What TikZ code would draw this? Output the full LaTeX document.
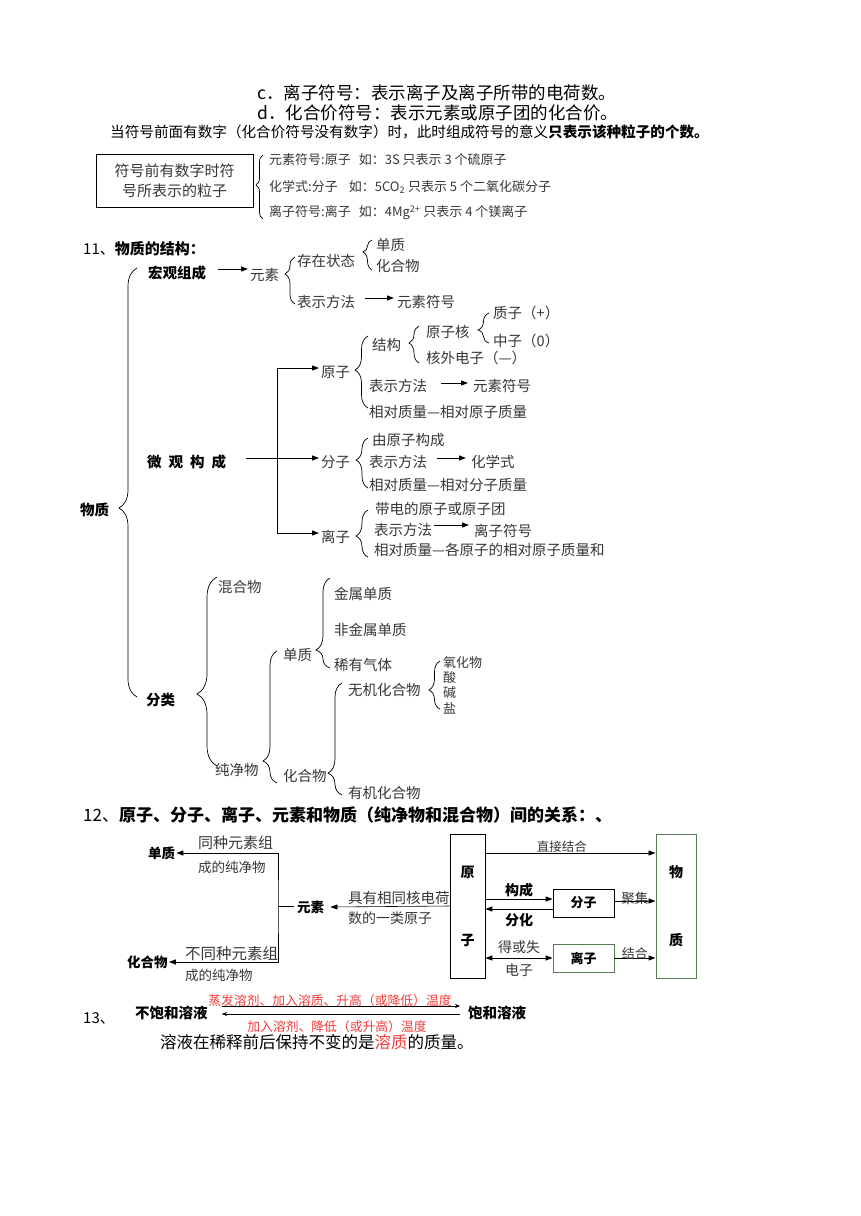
\documentclass[tikz,border=0pt]{standalone}
\usepackage{fontspec}
\setmainfont{Noto Sans CJK SC}
\usetikzlibrary{arrows.meta,decorations.pathreplacing,positioning}

\definecolor{boxgreen}{RGB}{84,122,84}
\definecolor{notered}{RGB}{245,60,60}
\definecolor{txtgray}{RGB}{55,55,55}

\newcommand{\fsz}[1]{\fontsize{#1}{#1}\selectfont}
\newcommand{\bracedraw}[5]{%
  \pgfmathsetmacro\braceasp{(#4-#3)/(#4-#2)}%
  \draw[brc, decoration={brace, amplitude=#5pt, aspect=\braceasp}] (#1,#4) -- (#1,#2);%
}

\tikzset{
  lbl/.style={anchor=west, inner sep=0pt, text=txtgray, font=\fsz{14.5}},
  bold/.style={anchor=west, inner sep=0pt, text=black, font=\fsz{14.5}\bfseries},
  brc/.style={decorate, line width=0.7pt},
  arr/.style={->, line width=1pt},
}

\begin{document}
\begin{tikzpicture}[x=1pt, y=-1pt, >={Triangle[length=7pt,width=5pt]}]
  \fill[white] (0,0) rectangle (860,1216);
  \useasboundingbox (0,0) rectangle (860,1216);

  % Symbols
  \node[lbl, text=black, font=\fsz{17.5}] (linec) at (257,93) {c．离子符号：表示离子及离子所带的电荷数。};
  \node[lbl, text=black, font=\fsz{17.5}] (lined) at (257,113) {d．化合价符号：表示元素或原子团的化合价。};
  \node[lbl, text=black, font=\fsz{14.6}] (note) at (110,132) {当符号前面有数字（化合价符号没有数字）时，此时组成符号的意义\textbf{只表示该种粒子的个数。}};
  \node[draw, line width=0.8pt, minimum width=157, minimum height=53, align=center, font=\fontsize{15}{20}\selectfont, text=txtgray] (fhbox) at (174.5,181) {符号前有数字时符\\号所表示的粒子};
  \bracedraw{263}{155}{185}{219}{7}
  \node[lbl, font=\fsz{13}] (ysfh0) at (269,160) {元素符号:原子\hspace{8pt}如：3S 只表示 3 个硫原子};
  \node[lbl, font=\fsz{13}] (hxs0) at (269,187) {化学式:分子\hspace{11pt}如：5CO\textsubscript{2} 只表示 5 个二氧化碳分子};
  \node[lbl, font=\fsz{13}] (lzfh0) at (269,213) {离子符号:离子\hspace{8pt}如：4Mg\textsuperscript{2+} 只表示 4 个镁离子};

  % Structure of matter
  \node[lbl, text=black, font=\fsz{15}] (h11) at (83,249) {11、\textbf{物质的结构：}};
  \node[bold] (wz) at (80,510) {物质};
  \bracedraw{137}{268}{508}{697}{18}

  % Macro view
  \node[bold] (hgzc) at (148,273) {宏观组成};
  \node[lbl] (ys1) at (250,275) {元素};
  \draw[arr] ([xshift=12pt,yshift=4pt]hgzc.east) -- ([xshift=-2pt,yshift=6pt]ys1.west);
  \bracedraw{295}{257}{274}{304}{10}
  \node[lbl] (czzt) at (297,261) {存在状态};
  \bracedraw{372}{240}{252}{270}{9}
  \node[lbl] (dz1) at (376,245) {单质};
  \node[lbl] (hhw1) at (376,266) {化合物};
  \node[lbl] (bsff1) at (297,302) {表示方法};
  \node[lbl] (ysfh1) at (397,302) {元素符号};
  \draw[arr] ([xshift=10pt,yshift=4pt]bsff1.east) -- ([xshift=-3pt,yshift=4pt]ysfh1.west);

  % Micro view
  \node[bold] (wgjc) at (147,462) {微\hspace{7pt}观\hspace{7pt}构\hspace{7pt}成};
  \node[lbl] (yz) at (321,372) {原子};
  \node[lbl] (fz) at (321,462) {分子};
  \node[lbl] (lz) at (321,537) {离子};
  \coordinate (vbot) at (277,533);
  \draw[<->, line width=1pt] ([xshift=-2pt,yshift=4pt]yz.west) -| (vbot) -- ([xshift=-2pt,yshift=4pt]lz.west);
  \draw[arr] ([xshift=20pt,yshift=4pt]wgjc.east) -- ([xshift=-2pt,yshift=4pt]fz.west);

  % Atom
  \bracedraw{368}{336}{370}{408}{13}
  \node[lbl] (jg) at (372,345) {结构};
  \bracedraw{419}{326}{343}{363}{10}
  \node[lbl] (yzh) at (426,332) {原子核};
  \node[lbl] (hwdz) at (426,358) {核外电子（—）};
  \bracedraw{489}{313}{330}{343}{11}
  \node[lbl] (zz) at (493,313) {质子（+）};
  \node[lbl] (zhz) at (493,341) {中子（0）};
  \node[lbl] (bsff2) at (369,386) {表示方法};
  \node[lbl] (ysfh2) at (473,386) {元素符号};
  \draw[arr] ([xshift=14pt,yshift=3pt]bsff2.east) -- ([xshift=-5pt,yshift=3pt]ysfh2.west);
  \node[lbl] (xdzl1) at (369,412) {相对质量—相对原子质量};

  % Molecule
  \bracedraw{368}{438}{460}{488}{12}
  \node[lbl] (yyzgc) at (372,440) {由原子构成};
  \node[lbl] (bsff3) at (369,462) {表示方法};
  \node[lbl] (hxs) at (471,462) {化学式};
  \draw[arr] ([xshift=10pt,yshift=4pt]bsff3.east) -- ([xshift=-5pt,yshift=4pt]hxs.west);
  \node[lbl] (xdzl2) at (369,485) {相对质量—相对分子质量};

  % Ion
  \bracedraw{368}{510}{536}{557}{12}
  \node[lbl] (ddyz) at (375,509) {带电的原子或原子团};
  \node[lbl] (bsff4) at (374,530) {表示方法};
  \node[lbl] (lzfh) at (474,531) {离子符号};
  \draw[arr] ([xshift=2pt,yshift=5pt]bsff4.east) -- ([xshift=-5pt,yshift=6pt]lzfh.west);
  \node[lbl] (xdzl3) at (374,550) {相对质量—各原子的相对原子质量和};

  % Classification
  \node[bold] (fl) at (146,700) {分类};
  \bracedraw{217}{577}{694}{766}{20}
  \node[lbl] (hhw) at (218,587) {混合物};
  \node[lbl] (cjw) at (215,770) {纯净物};
  \bracedraw{277}{651}{761}{783}{14}
  \node[lbl] (dz3) at (283,655) {单质};
  \bracedraw{330}{578}{650}{668}{14}
  \node[lbl] (jsdz) at (334,594) {金属单质};
  \node[lbl] (fjsdz) at (334,630) {非金属单质};
  \node[lbl] (xyqt) at (334,665) {稀有气体};
  \node[lbl] (hhw3) at (283,776) {化合物};
  \bracedraw{342}{683}{773}{795}{14}
  \node[lbl] (wjhhw) at (348,690) {无机化合物};
  \node[lbl] (yjhhw) at (348,793) {有机化合物};
  \bracedraw{440}{661}{690}{709}{11}
  \node[lbl, font=\fsz{13}] (yhw) at (443,663) {氧化物};
  \node[lbl, font=\fsz{13}] (suan) at (443,678) {酸};
  \node[lbl, font=\fsz{13}] (jian) at (443,693) {碱};
  \node[lbl, font=\fsz{13}] (yan) at (443,708) {盐};

  % Relations
  \node[lbl, text=black, font=\fsz{17}] (h12) at (83,815) {12、\textbf{原子、分子、离子、元素和物质（纯净物和混合物）间的关系：、}};
  \node[bold, font=\fsz{13.5}\bfseries] (dz2) at (148,853) {单质};
  \node[bold, font=\fsz{13.5}\bfseries] (hhw2) at (127,962) {化合物};
  \node[bold, font=\fsz{13.5}\bfseries] (ys2) at (297,907) {元素};
  \coordinate (ysj) at (278,906);
  \draw[<->, line width=1pt] ([xshift=1pt]dz2.east) -| (ysj) |- ([xshift=1pt]hhw2.east);
  \draw[line width=1pt] (ysj) -- ([xshift=-3pt,yshift=1pt]ys2.west);
  \node[lbl, font=\fsz{15}] (tzys) at (198,843) {同种元素组};
  \node[lbl, font=\fsz{13.5}] (cdcjw1) at (198,867) {成的纯净物};
  \node[lbl, font=\fsz{15.5}] (btzys) at (185,954) {不同种元素组};
  \node[lbl, font=\fsz{13.5}] (cdcjw2) at (185,975) {成的纯净物};
  \node[lbl, font=\fsz{14.5}] (jyxt) at (348,898) {具有相同核电荷};
  \node[lbl, font=\fsz{14}] (sdyl) at (348,918) {数的一类原子};

  \node[draw, line width=0.8pt, minimum width=35, minimum height=144, inner sep=0pt, font=\fsz{14}\bfseries, align=center] (yzbox) at (467.5,906) {原\\[54pt]子};
  \node[draw=boxgreen, line width=1pt, minimum width=40, minimum height=144, inner sep=0pt, font=\fsz{14}\bfseries, align=center] (wzbox) at (676,906) {物\\[54pt]质};
  \node[draw, line width=0.8pt, minimum width=61, minimum height=28, font=\fsz{13}\bfseries] (fzbox) at (583.5,903) {分子};
  \node[draw=boxgreen, line width=0.8pt, minimum width=61, minimum height=28, font=\fsz{13}\bfseries] (lzbox) at (583.5,958) {离子};
  \draw[->, line width=0.6pt] (yzbox.west) -- ([xshift=6pt]ys2.east);

  \draw[->, line width=0.8pt] ([yshift=53pt]yzbox.east) -- ([yshift=53pt]wzbox.west) node[pos=0.45, above, inner sep=0pt, font=\fsz{12.5}, text=txtgray] {直接结合};
  \draw[->, line width=1pt] ([yshift=7pt]yzbox.east) -- ([yshift=4pt]fzbox.west) node[midway, above=1pt, inner sep=0pt, font=\fsz{14}\bfseries] {构成};
  \draw[->, line width=1pt] ([yshift=-6pt]fzbox.west) -- ([yshift=-3pt]yzbox.east) node[midway, below=4pt, inner sep=0pt, font=\fsz{14}\bfseries] {分化};
  \draw[->, line width=1pt] ([yshift=2pt]fzbox.east) -- ([yshift=5pt]wzbox.west) node[midway, above=-4pt, inner sep=0pt, font=\fsz{13.5}, text=txtgray] {聚集};
  \draw[<->, line width=1pt] ([yshift=-52pt]yzbox.east) -- (lzbox.west) node[midway, above=4pt, inner sep=0pt, font=\fsz{14}, text=txtgray] {得或失} node[midway, below=5pt, inner sep=0pt, font=\fsz{14}, text=txtgray] {电子};
  \draw[->, line width=1pt] (lzbox.east) -- ([yshift=-52pt]wzbox.west) node[midway, above=-2pt, inner sep=0pt, font=\fsz{13}, text=txtgray] {结合};

  % Solutions
  \node[lbl, text=black, font=\fsz{15}] (h13) at (83,1018) {13、};
  \node[bold] (bbhry) at (135,1013) {不饱和溶液};
  \node[bold] (bhry) at (468,1013) {饱和溶液};
  \draw[-{Stealth[length=5pt,width=4pt]}, line width=0.6pt] ([xshift=14pt,yshift=7pt]bbhry.east) -- ([xshift=-8pt,yshift=7pt]bhry.west);
  \draw[-{Stealth[length=5pt,width=4pt]}, line width=0.6pt] ([xshift=-8pt,yshift=-1pt]bhry.west) -- ([xshift=14pt,yshift=-1pt]bbhry.east);
  \node[font=\fsz{12.8}, text=notered, inner sep=0pt] (zfrj) at (330,1001) {蒸发溶剂、加入溶质、升高（或降低）温度};
  \node[font=\fsz{12.8}, text=notered, inner sep=0pt] (jrrj) at (337,1027) {加入溶剂、降低（或升高）温度};
  \node[lbl, text=black, font=\fsz{16.5}] (xs) at (160,1042) {溶液在稀释前后保持不变的是\textcolor{notered}{溶质}的质量。};
\end{tikzpicture}
\end{document}
